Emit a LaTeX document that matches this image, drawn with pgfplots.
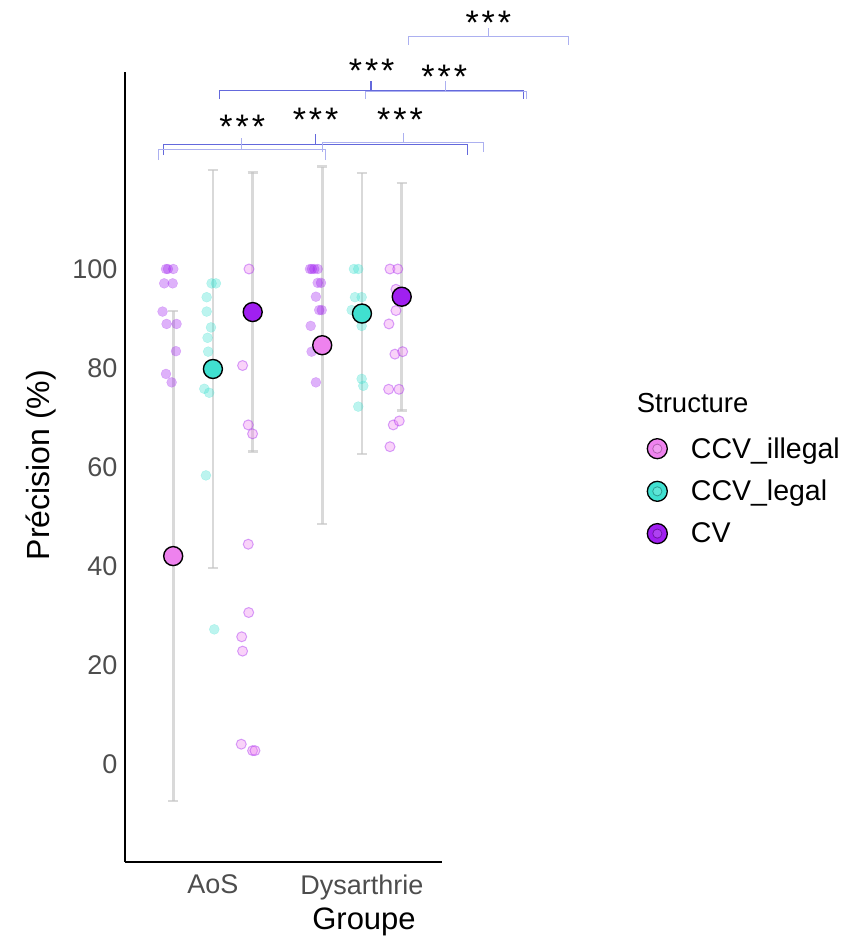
\documentclass[border=0pt]{standalone}
\usepackage{fontspec}
\setmainfont{Liberation Sans}
\usepackage{pgfplots}
\pgfplotsset{compat=1.18}

\definecolor{illc}{HTML}{EE82EE}
\definecolor{legc}{HTML}{40E0D0}
\definecolor{cvc}{HTML}{A020F0}
\definecolor{barc}{HTML}{C4C4C4}
\definecolor{brkdark}{RGB}{100,105,220}
\definecolor{brklight}{RGB}{172,176,240}
\definecolor{ticktext}{HTML}{4D4D4D}

\begin{document}
\begin{tikzpicture}
\begin{axis}[
  at={(0,0)}, anchor=south west,
  scale only axis, width=317pt, height=790pt,
  xmin=0.41, xmax=2.537, ymin=-19.8, ymax=139.8,
  axis lines*=left,
  axis line style={line width=1.4pt, black},
  xtick={1,2}, xticklabels={AoS,Dysarthrie},
  ytick={0,20,40,60,80,100},
  major tick length=0pt,
  /pgf/number format/assume math mode=true,
  tick label style={font=\fontsize{27}{32}\selectfont, text=ticktext},
  yticklabel style={xshift=-4pt},
  xticklabel style={yshift=-9pt},
  xlabel={Groupe}, ylabel={Précision (\%)},
  xlabel style={font=\fontsize{31}{36}\selectfont, at={(axis description cs:0.754,-0.085)}, anchor=base},
  ylabel style={font=\fontsize{32}{36}\selectfont, at={(axis description cs:-0.2388,0.5025)}, anchor=base},
  clip=false,
  legend style={at={(axis description cs:1.645,0.54)}, anchor=north west,
    draw=none, fill=none, font=\fontsize{28.5}{34}\selectfont,
    row sep=16.5pt, column sep=21pt, inner sep=0pt},
  legend cell align=left,
]

% individual scores, CCV_illegal
\addplot[only marks, mark=*, mark size=5pt,
  mark options={draw=cvc, fill=cvc, draw opacity=0.25, fill opacity=0.35},
  forget plot] coordinates {
  (0.685,100)(0.698,100)(0.734,100)(0.673,97.1)(0.730,97.1)(0.662,91.4)
  (0.689,88.9)(0.756,88.9)(0.752,83.4)(0.685,78.8)(0.723,77.1)
  (1.651,100)(1.664,100)(1.680,100)(1.703,100)(1.703,97.2)(1.725,97.2)
  (1.691,94.4)(1.713,91.7)(1.730,91.7)(1.656,88.5)(1.662,83.3)(1.691,77.1)
};
% individual scores, CCV_legal
\addplot[only marks, mark=*, mark size=5pt,
  mark options={draw=legc, fill=legc, draw opacity=0.3, fill opacity=0.35},
  forget plot] coordinates {
  (0.991,97.1)(1.020,97.1)(0.958,94.3)(0.958,91.4)(0.987,88.2)(0.964,86.1)
  (0.968,83.3)(0.942,75.8)(0.975,75.0)(0.953,58.3)(1.009,27.2)
  (1.946,100)(1.975,100)(1.953,94.3)(1.998,94.3)(1.931,91.7)(1.998,88.5)
  (1.998,77.8)(2.009,76.4)(1.975,72.2)
};
% individual scores, CV
\addplot[only marks, mark=*, mark size=5pt,
  mark options={draw=cvc, fill=illc, draw opacity=0.4, fill opacity=0.35, line width=1pt},
  forget plot] coordinates {
  (1.242,100)(1.199,80.5)(1.237,68.5)(1.266,66.7)(1.237,44.4)(1.240,30.6)
  (1.193,25.7)(1.199,22.8)(1.190,4.0)(1.266,2.7)(1.282,2.7)
  (2.188,100)(2.240,100)(2.228,95.9)(2.228,91.6)(2.181,88.9)(2.221,82.8)
  (2.273,83.3)(2.179,75.7)(2.248,75.7)(2.210,68.5)(2.250,69.3)(2.188,64.1)
};

% means
\addplot[only marks, mark=*, mark size=9.5pt,
  mark options={draw=black, fill=illc, line width=1.4pt},
  legend image code/.code={
    \draw[black, line width=1.3pt, fill=illc] (10.5pt,0) circle (10pt);
    \draw[illc!75!black, fill=illc!80, line width=0.8pt] (10.5pt,0) circle (4.6pt);}]
  coordinates {(0.7333,42.0)(1.7333,84.6)};
\addlegendentry{CCV\_illegal}
\addplot[only marks, mark=*, mark size=9.5pt,
  mark options={draw=black, fill=legc, line width=1.4pt},
  legend image code/.code={
    \draw[black, line width=1.3pt, fill=legc] (10.5pt,0) circle (10pt);
    \draw[legc!70!black, fill=legc!85, line width=0.8pt] (10.5pt,0) circle (4.6pt);}]
  coordinates {(1.0,79.8)(2.0,91.0)};
\addlegendentry{CCV\_legal}
\addplot[only marks, mark=*, mark size=9.5pt,
  mark options={draw=black, fill=cvc, line width=1.4pt},
  legend image code/.code={
    \draw[black, line width=1.3pt, fill=cvc] (10.5pt,0) circle (10pt);
    \draw[cvc!70!black, fill=cvc!85, line width=0.8pt] (10.5pt,0) circle (4.6pt);}]
  coordinates {(1.2667,91.3)(2.2667,94.4)};
\addlegendentry{CV}

% standard deviations
\addplot[draw=none, mark=none, forget plot,
  error bars/.cd, y dir=both, y explicit,
  error bar style={draw=barc, line width=2.8pt, opacity=0.65},
  error mark options={rotate=90, mark size=5pt, line width=2.6pt, draw=barc, opacity=0.65}]
  coordinates {
  (0.7333,42.0) +- (0,49.5)
  (1.0,79.8) +- (0,40.2)
  (1.2667,91.3) +- (0,28.2)
  (1.7333,84.6) +- (0,36.1)
  (2.0,91.0) +- (0,28.4)
  (2.2667,94.4) +- (0,23.0)
};

% significance brackets
\addplot[brklight, line width=1pt, forget plot] coordinates {(2.311,145.3)(2.311,146.9)(3.389,146.9)(3.389,145.3)};
\addplot[brklight, line width=1pt, forget plot] coordinates {(2.852,146.9)(2.852,148.7)};
\addplot[brkdark, line width=1.2pt, forget plot] coordinates {(1.042,134.3)(1.042,136.0)(3.083,136.0)(3.083,134.3)};
\addplot[brkdark, line width=1.2pt, forget plot] coordinates {(2.060,136.0)(2.060,138.0)};
\addplot[brklight, line width=1pt, forget plot] coordinates {(2.027,134.3)(2.027,135.8)(3.101,135.8)(3.101,134.3)};
\addplot[brklight, line width=1pt, forget plot] coordinates {(2.562,135.8)(2.562,138.0)};
\addplot[brkdark, line width=1.2pt, forget plot] coordinates {(0.671,123.0)(0.671,125.1)(2.707,125.1)(2.707,123.0)};
\addplot[brkdark, line width=1.2pt, forget plot] coordinates {(1.689,125.1)(1.689,127.2)};
\addplot[brklight, line width=1pt, forget plot] coordinates {(0.633,122.0)(0.633,124.2)(1.752,124.2)(1.752,122.0)};
\addplot[brklight, line width=1pt, forget plot] coordinates {(1.193,124.2)(1.193,126.5)};
\addplot[brklight, line width=1pt, forget plot] coordinates {(1.736,123.7)(1.736,125.6)(2.814,125.6)(2.814,123.7)};
\addplot[brklight, line width=1pt, forget plot] coordinates {(2.277,125.6)(2.277,127.4)};

\tikzset{stars/.style={font=\fontsize{34}{34}\selectfont, anchor=base, yshift=-19.5pt, inner sep=0pt}}
\node[stars] at (axis cs:2.848,151.3) {*\hspace{3pt}*\hspace{3pt}*};
\node[stars] at (axis cs:2.065,141.6) {*\hspace{3pt}*\hspace{3pt}*};
\node[stars] at (axis cs:2.552,140.5) {*\hspace{3pt}*\hspace{3pt}*};
\node[stars] at (axis cs:1.689,131.7) {*\hspace{3pt}*\hspace{3pt}*};
\node[stars] at (axis cs:1.197,130.4) {*\hspace{3pt}*\hspace{3pt}*};
\node[stars] at (axis cs:2.255,131.7) {*\hspace{3pt}*\hspace{3pt}*};

\node[anchor=base west, font=\fontsize{27.5}{32}\selectfont, inner sep=0pt]
  at (axis description cs:1.614,0.5696) {Structure};
\end{axis}
\pgfresetboundingbox
\path (-125pt,-85pt) rectangle (734pt,862pt);
\end{tikzpicture}
\end{document}
